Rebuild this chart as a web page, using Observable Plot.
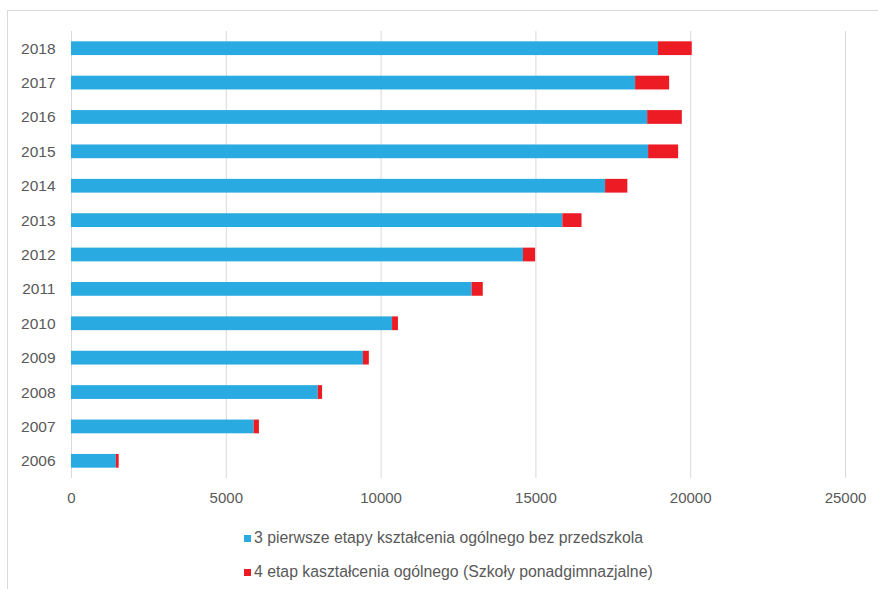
<!DOCTYPE html>
<html>
<head>
<meta charset="utf-8">
<script src="https://cdn.jsdelivr.net/npm/d3@7"></script>
<script src="https://cdn.jsdelivr.net/npm/@observablehq/plot@0.6"></script>
<style>
  body { margin: 0; background: #fff; font-family: "Liberation Sans", Arial, sans-serif; }
  #wrap { position: relative; width: 878px; height: 589px; overflow: hidden; }
  #frame { position: absolute; left: 7px; top: 10px; width: 900px; height: 600px; border: 1px solid #d9d9d9; box-sizing: border-box; }
  #chart { position: absolute; left: 0; top: 0; }
  #legend { position: absolute; left: 244px; top: 528px; font-size: 15.8px; color: #595959; }
  .item { display: flex; align-items: center; height: 20px; margin-bottom: 14px; white-space: nowrap; }
  .sw { width: 7px; height: 7px; margin-right: 3px; }
</style>
</head>
<body>
<div id="wrap">
  <div id="frame"></div>
  <div id="chart"></div>
  <div id="legend"></div>
</div>
<script>
const years = ["2006","2007","2008","2009","2010","2011","2012","2013","2014","2015","2016","2017","2018"];
const seriesNames = [
  "3 pierwsze etapy kształcenia ogólnego bez przedszkola",
  "4 etap kaształcenia ogólnego (Szkoły ponadgimnazjalne)"
];
const stage13 = [1450, 5900, 7970, 9430, 10370, 12940, 14600, 15870, 17250, 18640, 18610, 18220, 18960];
const stage4  = [  90,  170,  140,  190,   190,   360,   390,   620,   720,   970,  1120,  1100,  1090];
const colors = ["#29abe2", "#ed1c24"];
const xTicks = [0, 5000, 10000, 15000, 20000, 25000];

const rows = [];
years.forEach((y, i) => {
  rows.push({year: y, series: seriesNames[0], value: stage13[i]});
  rows.push({year: y, series: seriesNames[1], value: stage4[i]});
});

const chart = Plot.plot({
  width: 878,
  height: 515,
  marginLeft: 71,
  marginRight: 33,
  marginTop: 31,
  marginBottom: 37,
  style: {fontFamily: "'Liberation Sans', Arial, sans-serif", fontSize: "15px", color: "#595959", background: "transparent"},
  x: {domain: [0, 25000], ticks: xTicks, tickFormat: d => String(d), label: null},
  y: {domain: years.slice().reverse(), paddingInner: 0.6, paddingOuter: 0.3, round: false, label: null},
  color: {domain: seriesNames, range: colors},
  marks: [
    Plot.gridX(xTicks, {stroke: "#d9d9d9", strokeOpacity: 1, strokeWidth: 1}),
    Plot.barX(rows, Plot.stackX({y: "year", x: "value", fill: "series", order: seriesNames})),
    Plot.axisX(xTicks, {tickSize: 0, tickPadding: 14, tickFormat: d => String(d), fill: "#595959", fontSize: 15}),
    Plot.axisY({tickSize: 0, tickPadding: 16, fill: "#595959", fontSize: 15.5})
  ]
});
document.getElementById("chart").appendChild(chart);

const legend = document.getElementById("legend");
seriesNames.forEach((name, i) => {
  const it = document.createElement("div");
  it.className = "item";
  const sw = document.createElement("span");
  sw.className = "sw";
  sw.style.background = colors[i];
  const tx = document.createElement("span");
  tx.textContent = name;
  it.appendChild(sw); it.appendChild(tx);
  legend.appendChild(it);
});
</script>
</body>
</html>
